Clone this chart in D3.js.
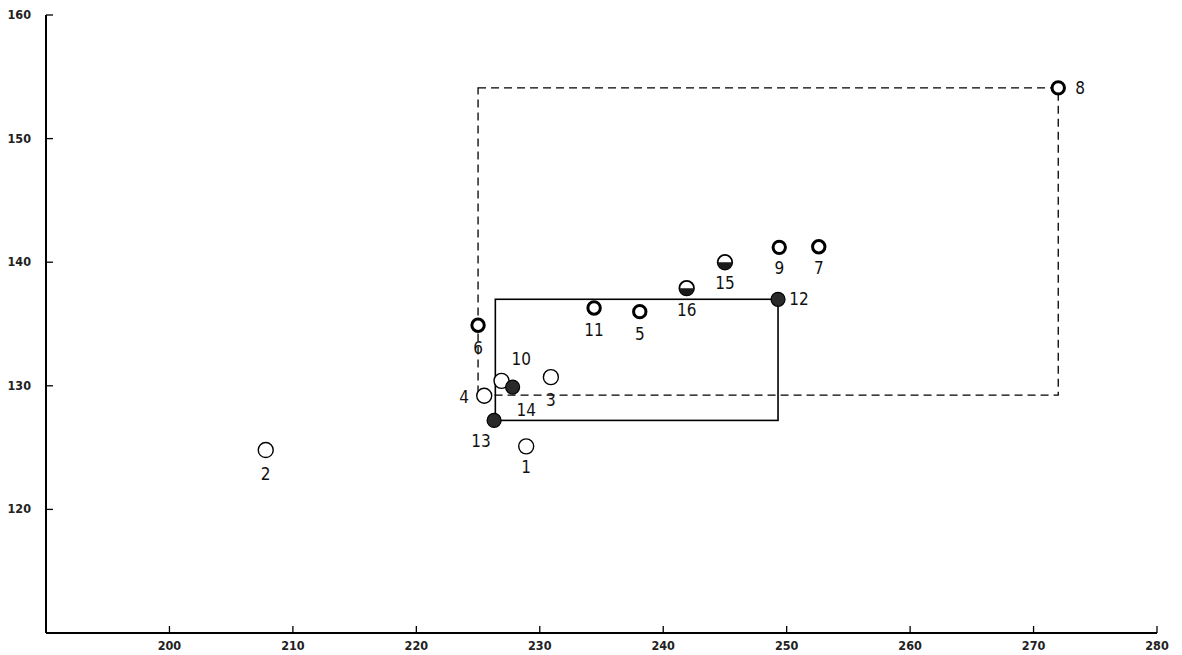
<!DOCTYPE html>
<html>
<head>
<meta charset="utf-8">
<script src="https://cdn.jsdelivr.net/npm/d3@7"></script>
<style>
  body { margin: 0; background: #fff; }
  svg { display: block; }
  .tick-lab { font-family: "DejaVu Sans Condensed", "Liberation Sans Narrow", sans-serif; font-size: 12.5px; font-weight: bold; fill: #222; }
  .pt-lab { font-family: "DejaVu Sans Condensed", "Liberation Sans Narrow", sans-serif; font-size: 17px; fill: #111; }
</style>
</head>
<body>
<div id="vis"></div>
<script>
// points
const ids   = [1, 2, 3, 4, 5, 6, 7, 8, 9, 10, 11, 12, 13, 14, 15, 16]
const xVals = [228.9, 207.8, 230.9, 225.5, 238.1, 225.0, 252.6, 272.0, 249.4, 226.9, 234.4, 249.3, 226.3, 227.8, 245.0, 241.9]
const yVals = [125.1, 124.8, 130.7, 129.2, 136.0, 134.9, 141.25, 154.1, 141.2, 130.4, 136.3, 137.0, 127.2, 129.9, 140.0, 137.9]
const kinds = ['open', 'open', 'open', 'open', 'thick', 'thick', 'thick', 'thick', 'thick', 'open', 'thick', 'filled', 'filled', 'filled', 'half', 'half']

// rectangles: [x0, y0, x1, y1]
const solidRect  = [226.4, 127.2, 249.3, 137.0]
const dashedRect = [225.0, 129.25, 272.0, 154.1]

const xTicks = [200, 210, 220, 230, 240, 250, 260, 270, 280]
const yTicks = [120, 130, 140, 150, 160]

// label placement (dx, dy in px, anchor)
const labelPos = {
    1: [0, 27, 'middle'], 2: [0, 30, 'middle'], 3: [0, 29, 'middle'], 4: [-20, 7, 'middle'],
    5: [0, 28, 'middle'], 6: [0, 29, 'middle'], 7: [0, 27, 'middle'], 8: [22, 6, 'middle'],
    9: [0, 27, 'middle'], 10: [10, -16, 'start'], 11: [0, 28, 'middle'], 12: [21, 6, 'middle'],
    13: [-13, 27, 'middle'], 14: [4, 29, 'start'], 15: [0, 27, 'middle'], 16: [0, 28, 'middle']
}

const W = 1182, H = 655

const x = d3.scaleLinear([190, 280], [46, 1157])
const y = d3.scaleLinear([110, 160], [633, 15])

const svg = d3.select('#vis').append('svg')
    .attr('width', W)
    .attr('height', H)

// axes
svg.append('line')
    .attr('x1', x(190)).attr('x2', x(280))
    .attr('y1', y(110)).attr('y2', y(110))
    .attr('stroke', '#000').attr('stroke-width', 2.2)
svg.append('line')
    .attr('x1', x(190)).attr('x2', x(190))
    .attr('y1', y(110)).attr('y2', y(160))
    .attr('stroke', '#000').attr('stroke-width', 2)

svg.selectAll('.xtick')
    .data(xTicks).enter()
    .append('line')
    .attr('x1', d => x(d)).attr('x2', d => x(d))
    .attr('y1', y(110)).attr('y2', y(110) - 7)
    .attr('stroke', '#000').attr('stroke-width', 1.3)

svg.selectAll('.xlab')
    .data(xTicks).enter()
    .append('text')
    .attr('class', 'tick-lab')
    .attr('x', d => x(d))
    .attr('y', y(110) + 17)
    .attr('text-anchor', 'middle')
    .text(d => d)

svg.selectAll('.ytick')
    .data(yTicks).enter()
    .append('line')
    .attr('x1', x(190)).attr('x2', x(190) + 7)
    .attr('y1', d => y(d)).attr('y2', d => y(d))
    .attr('stroke', '#000').attr('stroke-width', 1.3)

svg.selectAll('.ylab')
    .data(yTicks).enter()
    .append('text')
    .attr('class', 'tick-lab')
    .attr('x', 31)
    .attr('y', d => y(d) + 4)
    .attr('text-anchor', 'end')
    .text(d => d)

// rectangles
svg.append('rect')
    .attr('x', x(dashedRect[0]))
    .attr('y', y(dashedRect[3]))
    .attr('width', x(dashedRect[2]) - x(dashedRect[0]))
    .attr('height', y(dashedRect[1]) - y(dashedRect[3]))
    .attr('fill', 'none').attr('stroke', '#000').attr('stroke-width', 1.3)
    .attr('stroke-dasharray', '8,5')

svg.append('rect')
    .attr('x', x(solidRect[0]))
    .attr('y', y(solidRect[3]))
    .attr('width', x(solidRect[2]) - x(solidRect[0]))
    .attr('height', y(solidRect[1]) - y(solidRect[3]))
    .attr('fill', 'none').attr('stroke', '#000').attr('stroke-width', 1.6)

const pts = ids.map((id, i) => ({id: id, x: xVals[i], y: yVals[i], kind: kinds[i]}))

const g = svg.selectAll('.pt')
    .data(pts).enter()
    .append('g')
    .attr('class', 'pt')
    .attr('transform', d => `translate(${x(d.x)},${y(d.y)})`)

g.filter(d => d.kind === 'open').append('circle')
    .attr('r', 7.5).attr('fill', '#fff').attr('stroke', '#000').attr('stroke-width', 1.4)

g.filter(d => d.kind === 'thick').append('circle')
    .attr('r', 6.2).attr('fill', '#fff').attr('stroke', '#000').attr('stroke-width', 3)

g.filter(d => d.kind === 'filled').append('circle')
    .attr('r', 7).attr('fill', '#2a2a2a').attr('stroke', '#000').attr('stroke-width', 1.2)

const half = g.filter(d => d.kind === 'half')
half.append('circle')
    .attr('r', 7.3).attr('fill', '#fff').attr('stroke', '#000').attr('stroke-width', 1.8)
half.append('path')
    .attr('d', d3.arc()({innerRadius: 0, outerRadius: 7.3, startAngle: Math.PI / 2, endAngle: Math.PI * 1.5}))
    .attr('fill', '#1a1a1a')

g.append('text')
    .attr('class', 'pt-lab')
    .attr('x', d => labelPos[d.id][0])
    .attr('y', d => labelPos[d.id][1])
    .attr('text-anchor', d => labelPos[d.id][2])
    .text(d => d.id)
</script>
</body>
</html>
